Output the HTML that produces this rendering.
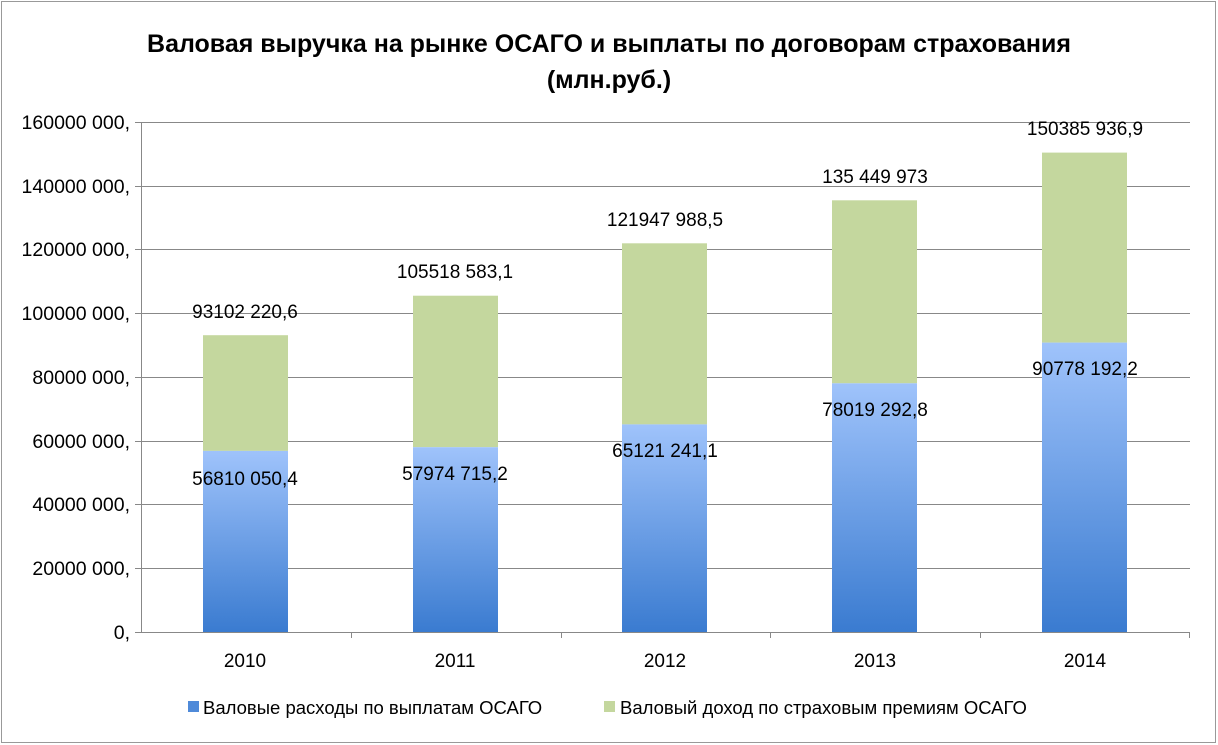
<!DOCTYPE html><html><head><meta charset="utf-8"><style>body{margin:0;background:#fff}svg{display:block}text{font-family:"Liberation Sans",sans-serif}</style></head><body>
<svg width="1218" height="745" xmlns="http://www.w3.org/2000/svg">
<defs><linearGradient id="b" x1="0" y1="0" x2="0" y2="1"><stop offset="0" stop-color="#9fc3fb"/><stop offset="1" stop-color="#3a7bd0"/></linearGradient></defs>
<rect x="1.5" y="1.5" width="1214" height="741" fill="#fff" stroke="#999"/>
<text x="609" y="52" text-anchor="middle" font-size="25" font-weight="bold">Валовая выручка на рынке ОСАГО и выплаты по договорам страхования</text>
<text x="609" y="88" text-anchor="middle" font-size="25" font-weight="bold">(млн.руб.)</text>
<g stroke="#888" stroke-width="1">
<line x1="135" y1="122.5" x2="1190" y2="122.5"/><line x1="135" y1="186.5" x2="1190" y2="186.5"/><line x1="135" y1="249.5" x2="1190" y2="249.5"/><line x1="135" y1="313.5" x2="1190" y2="313.5"/><line x1="135" y1="377.5" x2="1190" y2="377.5"/><line x1="135" y1="441.5" x2="1190" y2="441.5"/><line x1="135" y1="504.5" x2="1190" y2="504.5"/><line x1="135" y1="568.5" x2="1190" y2="568.5"/>
</g>
<g font-size="19.5" text-anchor="end">
<text x="130" y="129">160000 000,</text><text x="130" y="193">140000 000,</text><text x="130" y="256">120000 000,</text><text x="130" y="320">100000 000,</text><text x="130" y="384">80000 000,</text><text x="130" y="448">60000 000,</text><text x="130" y="511">40000 000,</text><text x="130" y="575">20000 000,</text><text x="130" y="639">0,</text>
</g>
<g>
<rect x="203" y="335.2" width="85" height="115.7" fill="#c4d79e"/><rect x="203" y="450.9" width="85" height="181.1" fill="url(#b)"/>
<rect x="413" y="295.7" width="85" height="151.5" fill="#c4d79e"/><rect x="413" y="447.2" width="85" height="184.8" fill="url(#b)"/>
<rect x="622" y="243.3" width="85" height="181.1" fill="#c4d79e"/><rect x="622" y="424.4" width="85" height="207.6" fill="url(#b)"/>
<rect x="832" y="200.3" width="85" height="183" fill="#c4d79e"/><rect x="832" y="383.3" width="85" height="248.7" fill="url(#b)"/>
<rect x="1042" y="152.6" width="85" height="190" fill="#c4d79e"/><rect x="1042" y="342.6" width="85" height="289.4" fill="url(#b)"/>
</g>
<g stroke="#888"><line x1="141.5" y1="632" x2="141.5" y2="122"/><line x1="135" y1="632.5" x2="1190" y2="632.5"/>
<line x1="351.5" y1="632" x2="351.5" y2="638"/><line x1="561.5" y1="632" x2="561.5" y2="638"/><line x1="770.5" y1="632" x2="770.5" y2="638"/><line x1="980.5" y1="632" x2="980.5" y2="638"/><line x1="1189.5" y1="632" x2="1189.5" y2="638"/></g>
<g font-size="19" text-anchor="middle">
<text x="245" y="318">93102 220,6</text><text x="455" y="278">105518 583,1</text><text x="665" y="226">121947 988,5</text><text x="875" y="183">135 449 973</text><text x="1085" y="135">150385 936,9</text>
<text x="245" y="485">56810 050,4</text><text x="455" y="480">57974 715,2</text><text x="665" y="457">65121 241,1</text><text x="875" y="416">78019 292,8</text><text x="1085" y="375">90778 192,2</text>
<text x="245" y="667">2010</text><text x="455" y="667">2011</text><text x="665" y="667">2012</text><text x="875" y="667">2013</text><text x="1085" y="667">2014</text>
</g>
<rect x="188" y="701" width="11" height="11" fill="#4f8ad9"/>
<text x="203" y="714" font-size="18.5">Валовые расходы по выплатам ОСАГО</text>
<rect x="604" y="701" width="11" height="11" fill="#c4d79e"/>
<text x="620" y="714" font-size="18.5">Валовый доход по страховым премиям ОСАГО</text>
</svg></body></html>
